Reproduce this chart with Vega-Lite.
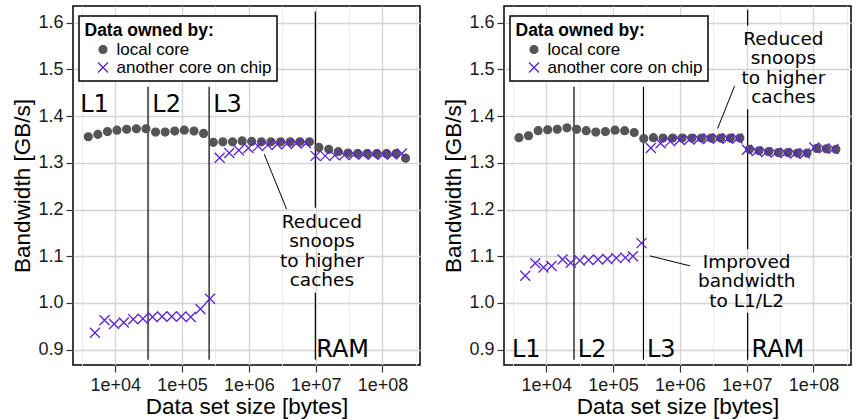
{
  "$schema": "https://vega.github.io/schema/vega-lite/v6.json",
  "background": "white",
  "padding": {"left": 11, "top": 5, "right": 0, "bottom": 0},
  "spacing": 21,
  "config": {
    "view": {"stroke": "black", "strokeWidth": 1.5},
    "axis": {
      "labelFont": "Liberation Sans", "labelFontSize": 18, "labelColor": "#1a1a1a",
      "titleFont": "Liberation Sans", "titleFontSize": 22.5, "titleFontWeight": "normal", "titleColor": "black",
      "tickColor": "#333333", "tickWidth": 1.2, "tickSize": 7, "domain": false, "grid": true
    },
    "legend": {
      "titleFont": "Liberation Sans", "titleFontSize": 17.5, "titleFontWeight": "bold", "titleColor": "black",
      "labelFont": "Liberation Sans", "labelFontSize": 17, "labelColor": "black",
      "strokeColor": "black", "strokeWidth": 1.5, "fillColor": "white", "padding": 5.5, "titlePadding": 2, "rowPadding": 0,
      "symbolStrokeWidth": 1.3, "symbolOffset": 10, "labelOffset": 5
    }
  },
  "datasets": {
    "leftPoints": [
      {"owner": "local core", "bytes": 3940, "gbps": 1.356},
      {"owner": "local core", "bytes": 5480, "gbps": 1.361},
      {"owner": "local core", "bytes": 7640, "gbps": 1.367},
      {"owner": "local core", "bytes": 10600, "gbps": 1.370},
      {"owner": "local core", "bytes": 14800, "gbps": 1.372},
      {"owner": "local core", "bytes": 20700, "gbps": 1.373},
      {"owner": "local core", "bytes": 28800, "gbps": 1.373},
      {"owner": "local core", "bytes": 40100, "gbps": 1.366},
      {"owner": "local core", "bytes": 55800, "gbps": 1.366},
      {"owner": "local core", "bytes": 77800, "gbps": 1.368},
      {"owner": "local core", "bytes": 108000, "gbps": 1.370},
      {"owner": "local core", "bytes": 151000, "gbps": 1.368},
      {"owner": "local core", "bytes": 210000, "gbps": 1.363},
      {"owner": "local core", "bytes": 293000, "gbps": 1.344},
      {"owner": "local core", "bytes": 408000, "gbps": 1.345},
      {"owner": "local core", "bytes": 569000, "gbps": 1.345},
      {"owner": "local core", "bytes": 792000, "gbps": 1.347},
      {"owner": "local core", "bytes": 1100000, "gbps": 1.346},
      {"owner": "local core", "bytes": 1540000, "gbps": 1.345},
      {"owner": "local core", "bytes": 2140000, "gbps": 1.345},
      {"owner": "local core", "bytes": 2990000, "gbps": 1.345},
      {"owner": "local core", "bytes": 4160000, "gbps": 1.345},
      {"owner": "local core", "bytes": 5790000, "gbps": 1.345},
      {"owner": "local core", "bytes": 8070000, "gbps": 1.345},
      {"owner": "local core", "bytes": 11200000, "gbps": 1.333},
      {"owner": "local core", "bytes": 15700000, "gbps": 1.329},
      {"owner": "local core", "bytes": 21800000, "gbps": 1.324},
      {"owner": "local core", "bytes": 30400000, "gbps": 1.321},
      {"owner": "local core", "bytes": 42400000, "gbps": 1.320},
      {"owner": "local core", "bytes": 59000000, "gbps": 1.320},
      {"owner": "local core", "bytes": 82200000, "gbps": 1.320},
      {"owner": "local core", "bytes": 115000000, "gbps": 1.320},
      {"owner": "local core", "bytes": 160000000, "gbps": 1.320},
      {"owner": "local core", "bytes": 222000000, "gbps": 1.310},
      {"owner": "another core on chip", "bytes": 4960, "gbps": 0.936},
      {"owner": "another core on chip", "bytes": 6900, "gbps": 0.963},
      {"owner": "another core on chip", "bytes": 9610, "gbps": 0.955},
      {"owner": "another core on chip", "bytes": 13400, "gbps": 0.958},
      {"owner": "another core on chip", "bytes": 18600, "gbps": 0.965},
      {"owner": "another core on chip", "bytes": 25900, "gbps": 0.966},
      {"owner": "another core on chip", "bytes": 36100, "gbps": 0.970},
      {"owner": "another core on chip", "bytes": 50200, "gbps": 0.971},
      {"owner": "another core on chip", "bytes": 69900, "gbps": 0.971},
      {"owner": "another core on chip", "bytes": 97300, "gbps": 0.971},
      {"owner": "another core on chip", "bytes": 135000, "gbps": 0.970},
      {"owner": "another core on chip", "bytes": 188000, "gbps": 0.987},
      {"owner": "another core on chip", "bytes": 262000, "gbps": 1.009},
      {"owner": "another core on chip", "bytes": 365000, "gbps": 1.311},
      {"owner": "another core on chip", "bytes": 508000, "gbps": 1.321},
      {"owner": "another core on chip", "bytes": 707000, "gbps": 1.327},
      {"owner": "another core on chip", "bytes": 984000, "gbps": 1.332},
      {"owner": "another core on chip", "bytes": 1370000, "gbps": 1.336},
      {"owner": "another core on chip", "bytes": 1910000, "gbps": 1.338},
      {"owner": "another core on chip", "bytes": 2650000, "gbps": 1.340},
      {"owner": "another core on chip", "bytes": 3690000, "gbps": 1.341},
      {"owner": "another core on chip", "bytes": 5140000, "gbps": 1.342},
      {"owner": "another core on chip", "bytes": 7160000, "gbps": 1.342},
      {"owner": "another core on chip", "bytes": 9960000, "gbps": 1.315},
      {"owner": "another core on chip", "bytes": 13900000, "gbps": 1.315},
      {"owner": "another core on chip", "bytes": 19300000, "gbps": 1.316},
      {"owner": "another core on chip", "bytes": 26900000, "gbps": 1.317},
      {"owner": "another core on chip", "bytes": 37400000, "gbps": 1.318},
      {"owner": "another core on chip", "bytes": 52000000, "gbps": 1.318},
      {"owner": "another core on chip", "bytes": 72400000, "gbps": 1.318},
      {"owner": "another core on chip", "bytes": 101000000, "gbps": 1.318},
      {"owner": "another core on chip", "bytes": 140000000, "gbps": 1.318},
      {"owner": "another core on chip", "bytes": 195000000, "gbps": 1.320}
    ],
    "rightPoints": [
      {"owner": "local core", "bytes": 3900, "gbps": 1.354},
      {"owner": "local core", "bytes": 5420, "gbps": 1.358},
      {"owner": "local core", "bytes": 7550, "gbps": 1.369},
      {"owner": "local core", "bytes": 10500, "gbps": 1.371},
      {"owner": "local core", "bytes": 14600, "gbps": 1.372},
      {"owner": "local core", "bytes": 20400, "gbps": 1.375},
      {"owner": "local core", "bytes": 28400, "gbps": 1.372},
      {"owner": "local core", "bytes": 39600, "gbps": 1.369},
      {"owner": "local core", "bytes": 55100, "gbps": 1.366},
      {"owner": "local core", "bytes": 76700, "gbps": 1.367},
      {"owner": "local core", "bytes": 107000, "gbps": 1.370},
      {"owner": "local core", "bytes": 149000, "gbps": 1.369},
      {"owner": "local core", "bytes": 207000, "gbps": 1.365},
      {"owner": "local core", "bytes": 288000, "gbps": 1.352},
      {"owner": "local core", "bytes": 401000, "gbps": 1.354},
      {"owner": "local core", "bytes": 559000, "gbps": 1.353},
      {"owner": "local core", "bytes": 778000, "gbps": 1.353},
      {"owner": "local core", "bytes": 1080000, "gbps": 1.353},
      {"owner": "local core", "bytes": 1510000, "gbps": 1.353},
      {"owner": "local core", "bytes": 2100000, "gbps": 1.353},
      {"owner": "local core", "bytes": 2930000, "gbps": 1.353},
      {"owner": "local core", "bytes": 4080000, "gbps": 1.353},
      {"owner": "local core", "bytes": 5680000, "gbps": 1.353},
      {"owner": "local core", "bytes": 7910000, "gbps": 1.353},
      {"owner": "local core", "bytes": 11000000, "gbps": 1.329},
      {"owner": "local core", "bytes": 15300000, "gbps": 1.326},
      {"owner": "local core", "bytes": 21300000, "gbps": 1.324},
      {"owner": "local core", "bytes": 29700000, "gbps": 1.322},
      {"owner": "local core", "bytes": 41400000, "gbps": 1.322},
      {"owner": "local core", "bytes": 57600000, "gbps": 1.321},
      {"owner": "local core", "bytes": 80200000, "gbps": 1.321},
      {"owner": "local core", "bytes": 112000000, "gbps": 1.331},
      {"owner": "local core", "bytes": 156000000, "gbps": 1.330},
      {"owner": "local core", "bytes": 217000000, "gbps": 1.329},
      {"owner": "another core on chip", "bytes": 4840, "gbps": 1.058},
      {"owner": "another core on chip", "bytes": 6840, "gbps": 1.085},
      {"owner": "another core on chip", "bytes": 9080, "gbps": 1.076},
      {"owner": "another core on chip", "bytes": 12000, "gbps": 1.079},
      {"owner": "another core on chip", "bytes": 17500, "gbps": 1.093},
      {"owner": "another core on chip", "bytes": 23200, "gbps": 1.086},
      {"owner": "another core on chip", "bytes": 31700, "gbps": 1.091},
      {"owner": "another core on chip", "bytes": 43000, "gbps": 1.092},
      {"owner": "another core on chip", "bytes": 59600, "gbps": 1.093},
      {"owner": "another core on chip", "bytes": 82200, "gbps": 1.094},
      {"owner": "another core on chip", "bytes": 112000, "gbps": 1.096},
      {"owner": "another core on chip", "bytes": 153000, "gbps": 1.097},
      {"owner": "another core on chip", "bytes": 198000, "gbps": 1.100},
      {"owner": "another core on chip", "bytes": 266000, "gbps": 1.128},
      {"owner": "another core on chip", "bytes": 368000, "gbps": 1.332},
      {"owner": "another core on chip", "bytes": 513000, "gbps": 1.342},
      {"owner": "another core on chip", "bytes": 715000, "gbps": 1.346},
      {"owner": "another core on chip", "bytes": 995000, "gbps": 1.349},
      {"owner": "another core on chip", "bytes": 1390000, "gbps": 1.350},
      {"owner": "another core on chip", "bytes": 1930000, "gbps": 1.351},
      {"owner": "another core on chip", "bytes": 2690000, "gbps": 1.352},
      {"owner": "another core on chip", "bytes": 3750000, "gbps": 1.352},
      {"owner": "another core on chip", "bytes": 5220000, "gbps": 1.352},
      {"owner": "another core on chip", "bytes": 7280000, "gbps": 1.352},
      {"owner": "another core on chip", "bytes": 10100000, "gbps": 1.328},
      {"owner": "another core on chip", "bytes": 14100000, "gbps": 1.325},
      {"owner": "another core on chip", "bytes": 19700000, "gbps": 1.323},
      {"owner": "another core on chip", "bytes": 27400000, "gbps": 1.322},
      {"owner": "another core on chip", "bytes": 38200000, "gbps": 1.321},
      {"owner": "another core on chip", "bytes": 53200000, "gbps": 1.320},
      {"owner": "another core on chip", "bytes": 74100000, "gbps": 1.320},
      {"owner": "another core on chip", "bytes": 103000000, "gbps": 1.333},
      {"owner": "another core on chip", "bytes": 144000000, "gbps": 1.331},
      {"owner": "another core on chip", "bytes": 200000000, "gbps": 1.330}
    ],
    "leftBounds": [
      {"bytes": 30900, "gbps": 0.878, "gbps2": 1.463},
      {"bytes": 254000, "gbps": 0.878, "gbps2": 1.463},
      {"bytes": 9890000, "gbps": 0.878, "gbps2": 1.022},
      {"bytes": 9890000, "gbps": 1.204, "gbps2": 1.624}
    ],
    "rightBounds": [
      {"bytes": 26000, "gbps": 0.878, "gbps2": 1.463},
      {"bytes": 285000, "gbps": 0.878, "gbps2": 1.463},
      {"bytes": 10350000, "gbps": 0.878, "gbps2": 0.979},
      {"bytes": 10350000, "gbps": 1.115, "gbps2": 1.415},
      {"bytes": 10350000, "gbps": 1.594, "gbps2": 1.628}
    ],
    "leftLeaders": [
      {"bytes": 1700000, "gbps": 1.3186, "bytes2": 3670000, "gbps2": 1.2008}
    ],
    "rightLeaders": [
      {"bytes": 6610000, "gbps": 1.465, "bytes2": 3670000, "gbps2": 1.3735},
      {"bytes": 356000, "gbps": 1.1007, "bytes2": 1416000, "gbps2": 1.0793}
    ],
    "leftLevels": [
      {"level": "L1", "bytes": 2985, "gbps": 1.408},
      {"level": "L2", "bytes": 35900, "gbps": 1.408},
      {"level": "L3", "bytes": 292000, "gbps": 1.408},
      {"level": "RAM", "bytes": 10200000, "gbps": 0.8843}
    ],
    "rightLevels": [
      {"level": "L1", "bytes": 3060, "gbps": 0.8843},
      {"level": "L2", "bytes": 29600, "gbps": 0.8843},
      {"level": "L3", "bytes": 321000, "gbps": 0.8843},
      {"level": "RAM", "bytes": 11800000, "gbps": 0.8843}
    ],
    "leftNotes": [
      {"note": "Reduced\nsnoops\nto higher\ncaches", "bytes": 12400000, "gbps": 1.1614}
    ],
    "rightNotes": [
      {"note": "Reduced\nsnoops\nto higher\ncaches", "bytes": 35500000, "gbps": 1.553},
      {"note": "Improved\nbandwidth\nto L1/L2", "bytes": 10000000, "gbps": 1.0757}
    ]
  },
  "hconcat": [
    {
      "width": 347,
      "height": 359,
      "layer": [
        {
          "data": {"name": "leftBounds"},
          "mark": {"type": "rule", "color": "black", "strokeWidth": 1.2},
          "encoding": {
            "x": {
              "field": "bytes", "type": "quantitative",
              "scale": {"type": "log", "domain": [2328, 364800000], "nice": false},
              "axis": {
                "title": "Data set size [bytes]", "orient": "bottom",
                "values": [3162.3, 10000, 31623, 100000, 316228, 1000000, 3162278, 10000000, 31622777, 100000000, 316227766],
                "labelExpr": "abs(log(datum.value) / LN10 - round(log(datum.value) / LN10)) < 0.01 ? '1e+0' + round(log(datum.value) / LN10) : ''",
                "labelFlush": false, "labelOverlap": false, "labelPadding": 4, "titlePadding": 1,
                "tickOpacity": {"condition": {"test": "abs(log(datum.value) / LN10 - round(log(datum.value) / LN10)) < 0.01", "value": 1}, "value": 0},
                "gridColor": {"condition": {"test": "abs(log(datum.value) / LN10 - round(log(datum.value) / LN10)) < 0.01", "value": "#d4d4d4"}, "value": "#ededed"},
                "gridWidth": {"condition": {"test": "abs(log(datum.value) / LN10 - round(log(datum.value) / LN10)) < 0.01", "value": 1.3}, "value": 1}
              }
            },
            "y": {
              "field": "gbps", "type": "quantitative",
              "scale": {"domain": [0.867, 1.636], "zero": false, "nice": false},
              "axis": {
                "title": "Bandwidth [GB/s]",
                "values": [0.9, 0.95, 1.0, 1.05, 1.1, 1.15, 1.2, 1.25, 1.3, 1.35, 1.4, 1.45, 1.5, 1.55, 1.6],
                "labelExpr": "abs(datum.value * 10 - round(datum.value * 10)) < 0.01 ? format(datum.value, '.1f') : ''",
                "labelOverlap": false, "labelPadding": 3, "titlePadding": 3,
                "tickOpacity": {"condition": {"test": "abs(datum.value * 10 - round(datum.value * 10)) < 0.01", "value": 1}, "value": 0},
                "gridColor": {"condition": {"test": "abs(datum.value * 10 - round(datum.value * 10)) < 0.01", "value": "#d4d4d4"}, "value": "#ededed"},
                "gridWidth": {"condition": {"test": "abs(datum.value * 10 - round(datum.value * 10)) < 0.01", "value": 1.3}, "value": 1}
              }
            },
            "y2": {"field": "gbps2"}
          }
        },
        {
          "data": {"name": "leftLeaders"},
          "mark": {"type": "rule", "color": "black", "strokeWidth": 1},
          "encoding": {
            "x": {"field": "bytes", "type": "quantitative"},
            "x2": {"field": "bytes2"},
            "y": {"field": "gbps", "type": "quantitative"},
            "y2": {"field": "gbps2"}
          }
        },
        {
          "data": {"name": "leftPoints"},
          "mark": {"type": "point", "filled": false, "opacity": 1, "strokeWidth": 1.3},
          "encoding": {
            "x": {"field": "bytes", "type": "quantitative"},
            "y": {"field": "gbps", "type": "quantitative"},
            "shape": {
              "field": "owner", "type": "nominal",
              "scale": {"domain": ["local core", "another core on chip"], "range": ["circle", "M-1,-1L1,1M-1,1L1,-1"]},
              "legend": {"title": "Data owned by:", "orient": "none", "legendX": 6, "legendY": 10}
            },
            "fill": {
              "field": "owner", "type": "nominal",
              "scale": {"domain": ["local core", "another core on chip"], "range": ["#555555", "transparent"]},
              "legend": {"title": "Data owned by:", "orient": "none", "legendX": 6, "legendY": 10}
            },
            "stroke": {
              "field": "owner", "type": "nominal",
              "scale": {"domain": ["local core", "another core on chip"], "range": ["#555555", "#5b22d9"]},
              "legend": {"title": "Data owned by:", "orient": "none", "legendX": 6, "legendY": 10}
            },
            "size": {
              "field": "owner", "type": "nominal",
              "scale": {"domain": ["local core", "another core on chip"], "range": [62, 100]},
              "legend": {"title": "Data owned by:", "orient": "none", "legendX": 6, "legendY": 10}
            }
          }
        },
        {
          "data": {"name": "leftLevels"},
          "mark": {"type": "text", "font": "DejaVu Sans", "fontSize": 24, "align": "left", "baseline": "alphabetic", "color": "black"},
          "encoding": {
            "x": {"field": "bytes", "type": "quantitative"},
            "y": {"field": "gbps", "type": "quantitative"},
            "text": {"field": "level", "type": "nominal"}
          }
        },
        {
          "data": {"name": "leftNotes"},
          "mark": {"type": "text", "font": "DejaVu Sans", "fontSize": 18.5, "align": "center", "baseline": "alphabetic", "lineBreak": "\n", "lineHeight": 19.5, "color": "black"},
          "encoding": {
            "x": {"field": "bytes", "type": "quantitative"},
            "y": {"field": "gbps", "type": "quantitative"},
            "text": {"field": "note", "type": "nominal"}
          }
        }
      ]
    },
    {
      "width": 347,
      "height": 359,
      "layer": [
        {
          "data": {"name": "rightBounds"},
          "mark": {"type": "rule", "color": "black", "strokeWidth": 1.2},
          "encoding": {
            "x": {
              "field": "bytes", "type": "quantitative",
              "scale": {"type": "log", "domain": [2328, 364800000], "nice": false},
              "axis": {
                "title": "Data set size [bytes]", "orient": "bottom",
                "values": [3162.3, 10000, 31623, 100000, 316228, 1000000, 3162278, 10000000, 31622777, 100000000, 316227766],
                "labelExpr": "abs(log(datum.value) / LN10 - round(log(datum.value) / LN10)) < 0.01 ? '1e+0' + round(log(datum.value) / LN10) : ''",
                "labelFlush": false, "labelOverlap": false, "labelPadding": 4, "titlePadding": 1,
                "tickOpacity": {"condition": {"test": "abs(log(datum.value) / LN10 - round(log(datum.value) / LN10)) < 0.01", "value": 1}, "value": 0},
                "gridColor": {"condition": {"test": "abs(log(datum.value) / LN10 - round(log(datum.value) / LN10)) < 0.01", "value": "#d4d4d4"}, "value": "#ededed"},
                "gridWidth": {"condition": {"test": "abs(log(datum.value) / LN10 - round(log(datum.value) / LN10)) < 0.01", "value": 1.3}, "value": 1}
              }
            },
            "y": {
              "field": "gbps", "type": "quantitative",
              "scale": {"domain": [0.867, 1.636], "zero": false, "nice": false},
              "axis": {
                "title": "Bandwidth [GB/s]",
                "values": [0.9, 0.95, 1.0, 1.05, 1.1, 1.15, 1.2, 1.25, 1.3, 1.35, 1.4, 1.45, 1.5, 1.55, 1.6],
                "labelExpr": "abs(datum.value * 10 - round(datum.value * 10)) < 0.01 ? format(datum.value, '.1f') : ''",
                "labelOverlap": false, "labelPadding": 3, "titlePadding": 3,
                "tickOpacity": {"condition": {"test": "abs(datum.value * 10 - round(datum.value * 10)) < 0.01", "value": 1}, "value": 0},
                "gridColor": {"condition": {"test": "abs(datum.value * 10 - round(datum.value * 10)) < 0.01", "value": "#d4d4d4"}, "value": "#ededed"},
                "gridWidth": {"condition": {"test": "abs(datum.value * 10 - round(datum.value * 10)) < 0.01", "value": 1.3}, "value": 1}
              }
            },
            "y2": {"field": "gbps2"}
          }
        },
        {
          "data": {"name": "rightLeaders"},
          "mark": {"type": "rule", "color": "black", "strokeWidth": 1},
          "encoding": {
            "x": {"field": "bytes", "type": "quantitative"},
            "x2": {"field": "bytes2"},
            "y": {"field": "gbps", "type": "quantitative"},
            "y2": {"field": "gbps2"}
          }
        },
        {
          "data": {"name": "rightPoints"},
          "mark": {"type": "point", "filled": false, "opacity": 1, "strokeWidth": 1.3},
          "encoding": {
            "x": {"field": "bytes", "type": "quantitative"},
            "y": {"field": "gbps", "type": "quantitative"},
            "shape": {
              "field": "owner", "type": "nominal",
              "scale": {"domain": ["local core", "another core on chip"], "range": ["circle", "M-1,-1L1,1M-1,1L1,-1"]},
              "legend": {"title": "Data owned by:", "orient": "none", "legendX": 6, "legendY": 10}
            },
            "fill": {
              "field": "owner", "type": "nominal",
              "scale": {"domain": ["local core", "another core on chip"], "range": ["#555555", "transparent"]},
              "legend": {"title": "Data owned by:", "orient": "none", "legendX": 6, "legendY": 10}
            },
            "stroke": {
              "field": "owner", "type": "nominal",
              "scale": {"domain": ["local core", "another core on chip"], "range": ["#555555", "#5b22d9"]},
              "legend": {"title": "Data owned by:", "orient": "none", "legendX": 6, "legendY": 10}
            },
            "size": {
              "field": "owner", "type": "nominal",
              "scale": {"domain": ["local core", "another core on chip"], "range": [62, 100]},
              "legend": {"title": "Data owned by:", "orient": "none", "legendX": 6, "legendY": 10}
            }
          }
        },
        {
          "data": {"name": "rightLevels"},
          "mark": {"type": "text", "font": "DejaVu Sans", "fontSize": 24, "align": "left", "baseline": "alphabetic", "color": "black"},
          "encoding": {
            "x": {"field": "bytes", "type": "quantitative"},
            "y": {"field": "gbps", "type": "quantitative"},
            "text": {"field": "level", "type": "nominal"}
          }
        },
        {
          "data": {"name": "rightNotes"},
          "mark": {"type": "text", "font": "DejaVu Sans", "fontSize": 18.5, "align": "center", "baseline": "alphabetic", "lineBreak": "\n", "lineHeight": 19.5, "color": "black"},
          "encoding": {
            "x": {"field": "bytes", "type": "quantitative"},
            "y": {"field": "gbps", "type": "quantitative"},
            "text": {"field": "note", "type": "nominal"}
          }
        }
      ]
    }
  ],
  "resolve": {
    "scale": {"shape": "independent", "fill": "independent", "stroke": "independent", "size": "independent"},
    "legend": {"shape": "independent", "fill": "independent", "stroke": "independent", "size": "independent"}
  }
}
